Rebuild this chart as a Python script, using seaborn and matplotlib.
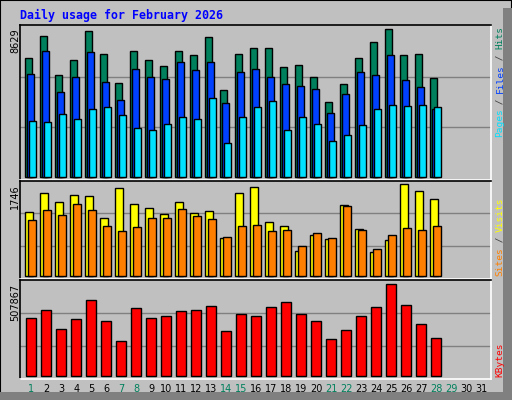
import numpy as np
import matplotlib
matplotlib.use("Agg")
import matplotlib.pyplot as plt
import seaborn as sns
from matplotlib.patches import Rectangle

days = list(range(1, 32))
hits = [6965, 8253, 5973, 6848, 8546, 7199, 5504, 7375, 6848, 6497, 7375, 7141, 8195, 5094, 7199, 7551,
        7551, 6438, 6555, 5855, 4392, 5445, 6926, 7863, 8629, 7141, 7199, 5797]
files = [6028, 7374, 4937, 5855, 7316, 5562, 4469, 6282, 5855, 5738, 6692, 6224, 6692, 4294, 6107, 6282,
         5855, 5445, 5328, 5152, 3747, 4820, 6107, 5933, 7101, 5640, 5230, 3942]
pages = [3240, 3181, 3650, 3357, 3943, 4060, 3591, 2830, 2713, 3064, 3474, 3357, 4587, 1991, 3474, 4060,
         4411, 2752, 3513, 3064, 2069, 2420, 3025, 3943, 4177, 4119, 4177, 4060]
visits = [1215, 1575, 1404, 1537, 1518, 1101, 1670, 1366, 1290, 1177, 1404, 1196, 1234, 721, 1575, 1689,
          1025, 949, 474, 778, 702, 1347, 892, 455, 683, 1746, 1613, 1461]
sites = [1063, 1253, 1158, 1366, 1253, 949, 854, 930, 1101, 1101, 1272, 1139, 1082, 740, 949, 968,
         854, 873, 569, 816, 721, 1328, 873, 512, 778, 911, 873, 949]
kbytes = [318000, 362500, 258500, 313000, 417500, 302000, 193000, 373500, 318000, 329000, 356500, 362500,
          384500, 247500, 340000, 329000, 378500, 406000, 340000, 302000, 204000, 253000, 329000, 378500,
          507867, 391000, 287000, 209000]

weekend = {1, 7, 8, 14, 15, 21, 22, 28, 29}

sns.set_theme(style="white")
plt.rcParams['font.family'] = ['DejaVu Sans']

BG = "#c0c0c0"
fig = plt.figure(figsize=(5.12, 4.0), dpi=100, facecolor=BG)

# frame and shadow
fig.patches.append(Rectangle((0, 0), 1, 1, transform=fig.transFigure, fill=False, ec="black", lw=1.5))
fig.patches.append(Rectangle((503 / 512, 0), 9 / 512, 392 / 400, transform=fig.transFigure, fc="#808080", ec="none"))
fig.patches.append(Rectangle((0, 0), 503 / 512, 8 / 400, transform=fig.transFigure, fc="#808080", ec="none"))

fig.text(20 / 512, 1 - 15 / 400, "Daily usage for February 2026", color="#0000ff",
         family="DejaVu Sans Mono", fontsize=8.4, fontweight="bold", va="center")

XL = (0.65, 0.65 + 31.4)


def panel(top, bot, ymax_px_scale):
    ax = fig.add_axes([20 / 512, 1 - bot / 400, 471 / 512, (bot - top) / 400])
    ax.set_facecolor(BG)
    ax.set_xlim(*XL)
    ax.set_xticks([])
    ax.set_yticks([])
    for s in ("left", "top"):
        ax.spines[s].set_color("black")
    for s in ("right", "bottom"):
        ax.spines[s].set_color("white")
    for s in ax.spines.values():
        s.set_linewidth(1.2)
    return ax


def bars(ax, vals, off, w, color):
    x = np.arange(1, len(vals) + 1) + off
    ax.bar(x, vals, width=w, align="edge", color=color, edgecolor="black", linewidth=1.0, zorder=3)


# top panel
ax1 = panel(25, 180, None)
ax1.set_ylim(-193, 8875)
for g in (2890, 5853):
    ax1.axhline(g, color="#808080", lw=1, zorder=1)
bars(ax1, hits, 0.0, 0.47, "#00805c")
bars(ax1, files, 0.13, 0.47, "#0040ff")
bars(ax1, pages, 0.27, 0.47, "#00e0ff")

# middle panel
ax2 = panel(180.5, 279, None)
ax2.set_ylim(-51, 1822)
for g in (569, 1196):
    ax2.axhline(g, color="#808080", lw=1, zorder=1)
bars(ax2, visits, 0.0, 0.53, "#ffff00")
bars(ax2, sites, 0.18, 0.53, "#ff8000")

# bottom panel
ax3 = panel(280, 379, None)
ax3.set_ylim(-18000, 529000)
for g in (163000, 347000):
    ax3.axhline(g, color="#808080", lw=1, zorder=1)
bars(ax3, kbytes, 0.07, 0.67, "#ff0000")

# max labels
for y, t in ((28, "8629"), (184, "1746"), (284, "507867")):
    fig.text(15 / 512, 1 - y / 400, t, rotation=90, va="top", ha="center", fontsize=7, color="black")


def vlabel(y_bottom, parts, cw=5.5):
    k = 0
    for s, c in parts:
        fig.text(500 / 512, 1 - (y_bottom - k * cw) / 400, s, rotation=90, va="bottom", ha="center",
                 family="DejaVu Sans Mono", fontsize=6.8, color=c)
        k += len(s)


vlabel(137, [("Pages", "#00e0ff"), (" / ", "#404040"), ("Files", "#0040ff"), (" / ", "#404040"), ("Hits", "#00805c")])
vlabel(276, [("Sites", "#ff8000"), (" / ", "#404040"), ("Visits", "#ffff00")])
vlabel(377, [("KBytes", "#ff0000")])

# day labels
for d in days:
    x = (20 + (d + 0.4 - XL[0]) / (XL[1] - XL[0]) * 471) / 512
    fig.text(x, 1 - 389 / 400, str(d), ha="center", va="center", fontsize=7,
             color="#00805c" if d in weekend else "black")

fig.savefig("out.png", dpi=100, facecolor=BG)
